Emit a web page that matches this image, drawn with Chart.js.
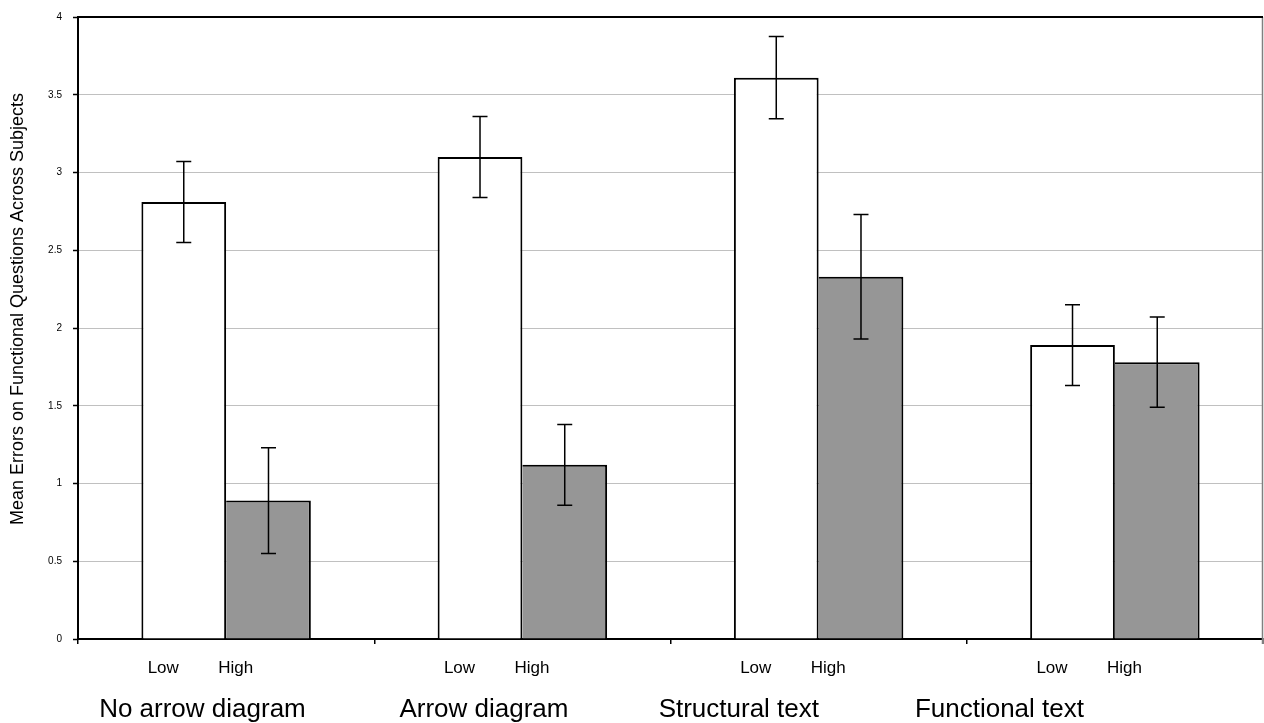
<!DOCTYPE html>
<html><head><meta charset="utf-8">
<script src="https://cdn.jsdelivr.net/npm/chart.js@4/dist/chart.umd.min.js"></script>
<style>html,body{margin:0;padding:0;background:#fff;}#wrap{width:1264px;height:723px;}</style>
</head><body><div id="wrap"><canvas id="c" width="1264" height="723"></canvas></div>
<script>
const categories = ['No arrow diagram', 'Arrow diagram', 'Structural text', 'Functional text'];
const seriesNames = ['Low', 'High'];
const lowValues = [2.81, 3.10, 3.61, 1.89];
const lowErrors = [0.26, 0.26, 0.265, 0.26];
const highValues = [0.89, 1.12, 2.33, 1.78];
const highErrors = [0.34, 0.26, 0.40, 0.29];
const yTickStep = 0.5;
const yMin = 0, yMax = 4;
const yTitle = 'Mean Errors on Functional Questions Across Subjects';

const FONT = "'Liberation Sans', Arial, sans-serif";

const errorBarPlugin = {
  id: 'errorBars',
  afterDatasetsDraw(chart) {
    const ctx = chart.ctx;
    const ys = chart.scales.y;
    chart.data.datasets.forEach((ds, d) => {
      const meta = chart.getDatasetMeta(d);
      meta.data.forEach((el, i) => {
        const v = ds.data[i], e = ds.errors[i];
        const yt = ys.getPixelForValue(v + e), yb = ys.getPixelForValue(v - e);
        const x = el.x;
        ctx.save();
        ctx.strokeStyle = '#000';
        ctx.lineWidth = 1.5;
        ctx.beginPath();
        ctx.moveTo(x, yt); ctx.lineTo(x, yb);
        ctx.moveTo(x - 7.5, yt); ctx.lineTo(x + 7.5, yt);
        ctx.moveTo(x - 7.5, yb); ctx.lineTo(x + 7.5, yb);
        ctx.stroke();
        ctx.restore();
      });
    });
  }
};

const framePlugin = {
  id: 'frame',
  afterDraw(chart, args, opts) {
    const ctx = chart.ctx, ca = chart.chartArea;
    const xs = chart.scales.x;
    ctx.save();
    ctx.strokeStyle = '#808080';
    ctx.lineWidth = 1.5;
    ctx.beginPath();
    ctx.moveTo(ca.right - 0.5, ca.top); ctx.lineTo(ca.right - 0.5, ca.bottom + 5);
    ctx.stroke();
    ctx.strokeStyle = '#000';
    ctx.lineWidth = 2;
    ctx.beginPath();
    ctx.moveTo(ca.left - 1, ca.top); ctx.lineTo(ca.right, ca.top);
    ctx.stroke();
    ctx.fillStyle = '#000';
    ctx.textBaseline = 'alphabetic';
    ctx.textAlign = 'left';
    categories.forEach((name, i) => {
      const cx = xs.getPixelForValue(i);
      ctx.font = '17px ' + FONT;
      ctx.fillText(seriesNames[0], cx + opts.lowOffset, opts.seriesBaseline);
      ctx.fillText(seriesNames[1], cx + opts.highOffset, opts.seriesBaseline);
      ctx.font = '26px ' + FONT;
      ctx.fillText(name, cx + opts.nameOffsets[i], opts.nameBaseline);
    });
    // y-axis title
    ctx.save();
    ctx.translate(opts.titleX, opts.titleY);
    ctx.rotate(-Math.PI / 2);
    ctx.textAlign = 'center';
    ctx.textBaseline = 'middle';
    ctx.font = opts.titleSize + 'px ' + FONT;
    ctx.fillText(yTitle, 0, 0);
    ctx.restore();
    ctx.restore();
  }
};

new Chart(document.getElementById('c'), {
  type: 'bar',
  data: {
    labels: categories,
    datasets: [
      {
        label: seriesNames[0], data: lowValues, errors: lowErrors,
        backgroundColor: '#ffffff', borderColor: '#000000',
        borderWidth: {left: 2, top: 2, right: 2, bottom: 0}, borderSkipped: false,
        categoryPercentage: 0.572, barPercentage: 1.0
      },
      {
        label: seriesNames[1], data: highValues, errors: highErrors,
        backgroundColor: '#969696', borderColor: '#000000',
        borderWidth: {left: 0, top: 2, right: 2, bottom: 0}, borderSkipped: false,
        categoryPercentage: 0.572, barPercentage: 1.0
      }
    ]
  },
  options: {
    responsive: false,
    animation: false,
    devicePixelRatio: 1,
    layout: {padding: {top: 15, right: 1, left: 0, bottom: 0}},
    plugins: {
      legend: {display: false},
      tooltip: {enabled: false},
      frame: {
        lowOffset: -78.5, highOffset: -8, seriesBaseline: 673,
        nameOffsets: [-127, -123, -160, -200], nameBaseline: 717,
        titleX: 18, titleY: 309, titleSize: 18
      }
    },
    scales: {
      x: {
        type: 'category',
        offset: true,
        grid: {offset: true, drawOnChartArea: false, drawTicks: true, tickLength: 5, color: '#000', lineWidth: 1.5},
        border: {display: true, color: '#000', width: 2},
        ticks: {display: false},
        afterFit(scale) { scale.height = 84; }
      },
      y: {
        min: yMin, max: yMax,
        ticks: {stepSize: yTickStep, color: '#000', font: {family: FONT, size: 10}, padding: 11,
          callback: (v) => String(Math.round(v * 10) / 10)},
        grid: {color: '#c0c0c0', lineWidth: 1, tickLength: 5, tickColor: '#000', tickWidth: 1.5},
        border: {display: true, color: '#000', width: 2},
        title: {display: false},
        afterFit(scale) { scale.width = 78; }
      }
    }
  },
  plugins: [errorBarPlugin, framePlugin]
});
</script>
</body></html>
